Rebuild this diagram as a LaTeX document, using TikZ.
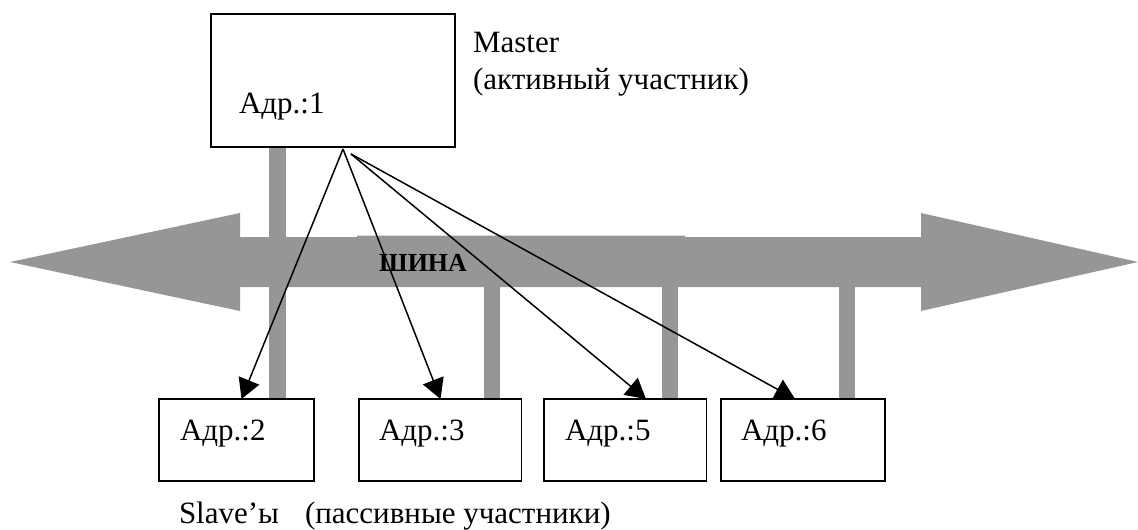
\documentclass[tikz,border=0pt]{standalone}
\usepackage{fontspec}
\setmainfont{Liberation Serif}
\usetikzlibrary{arrows.meta}
\definecolor{busgray}{HTML}{969696}
\tikzset{
  x=1pt,y=-1pt,
  devbox/.style={draw=black,fill=white,line width=1.5pt,inner sep=0pt,outer sep=0pt},
  lbl/.style={anchor=base west,inner sep=0pt,outer sep=0pt,font=\fontsize{31}{36}\selectfont},
  stem/.style={busgray,line width=16.5pt},
  signal/.style={draw=black,line width=1.5pt,-{Triangle[length=20pt,width=22pt]}},
}
\begin{document}
\begin{tikzpicture}
\useasboundingbox (0,0) rectangle (1138,530);
% bus
\fill[busgray] (10,262) -- (240,213) -- (240,237) -- (357,237) -- (357,235.5) -- (685,235.5) -- (685,237) -- (921,237) -- (921,213) -- (1138,262) -- (921,311) -- (921,287) -- (240,287) -- (240,311) -- cycle;
% coordinates on the bus
\coordinate (b1) at (277.5,237);
\coordinate (b2) at (277.5,287);
\coordinate (b3) at (492,287);
\coordinate (b5) at (670,287);
\coordinate (b6) at (847,287);
\coordinate (t1) at (277.5,147);
\coordinate (t2) at (277.5,399);
\coordinate (t3) at (492,399);
\coordinate (t5) at (670,399);
\coordinate (t6) at (847,399);
\draw[stem] (t1) -- (b1);
\draw[stem] (b2) -- (t2);
\draw[stem] (b3) -- (t3);
\draw[stem] (b5) -- (t5);
\draw[stem] (b6) -- (t6);
% boxes
\node[devbox,minimum width=244pt,minimum height=133pt] (master) at (333,80.5) {};
\node[devbox,minimum width=155pt,minimum height=82pt] (s2) at (236.5,440) {};
\node[devbox,minimum width=162.5pt,minimum height=82pt] (s3) at (440,440) {};
\node[devbox,minimum width=162.5pt,minimum height=82pt] (s5) at (625,440) {};
\node[devbox,minimum width=164pt,minimum height=82pt] (s6) at (803,440) {};
% labels
\node[lbl] (tmaster) at (473,52) {Master};
\node[lbl] (tactive) at (473,89) {(активный участник)};
\node[lbl] (a1) at (239,113) {Адр.:1};
\node[lbl] (a2) at (180,440) {Адр.:2};
\node[lbl] (a3) at (379,440) {Адр.:3};
\node[lbl] (a5) at (565,440) {Адр.:5};
\node[lbl] (a6) at (741,440) {Адр.:6};
\node[lbl] (tslave) at (179,523) {Slave’ы};
\node[lbl] (tpassive) at (305,523) {(пассивные участники)};
\node[anchor=base west,inner sep=0pt,font=\fontsize{26}{30}\selectfont\bfseries] (tbus) at (379,271) {ШИНА};
% signal lines
\coordinate (m1) at (343,149);
\coordinate (m2) at (351,154);
\coordinate (e2) at (241.5,399);
\coordinate (e3) at (440.5,399);
\coordinate (e5) at (646,399);
\coordinate (e6) at (795,399);
\draw[signal] (m1) -- (e2);
\draw[signal] (m1) -- (e3);
\draw[signal] (m2) -- (e5);
\draw[signal] (m2) -- (e6);
\end{tikzpicture}
\end{document}
